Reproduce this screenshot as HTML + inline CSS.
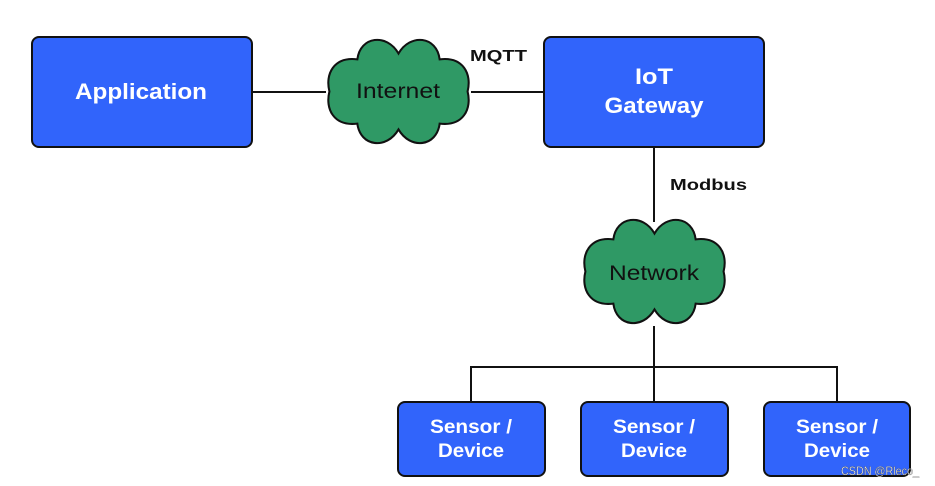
<!DOCTYPE html>
<html><head><meta charset="utf-8"><style>
html,body{margin:0;padding:0;background:#fff;}
svg{display:block;}
text{font-family:"Liberation Sans",Arial,sans-serif;}
</style></head><body>
<svg width="935" height="486" viewBox="0 0 935 486" xmlns="http://www.w3.org/2000/svg">
<defs>
<path id="cloud" d="M50 12 C42 -2 24 0 22 16 C6 14 0 26 3 38 C0 50 6 62 22 60 C24 76 42 78 50 64 C58 78 76 76 78 60 C94 62 100 50 97 38 C100 26 94 14 78 16 C76 0 58 -2 50 12 Z"/>
</defs>
<g stroke="#111" stroke-width="2" fill="none">
<line x1="252" y1="92" x2="326" y2="92"/>
<line x1="471" y1="92" x2="544" y2="92"/>
<line x1="654" y1="147" x2="654" y2="222"/>
<line x1="654" y1="326" x2="654" y2="402"/>
<polyline points="471,402 471,367 837,367 837,402"/>
</g>
<g fill="#3164fb" stroke="#111" stroke-width="2">
<rect x="32" y="37" width="220" height="110" rx="7"/>
<rect x="544" y="37" width="220" height="110" rx="7"/>
<rect x="398" y="402" width="147" height="74" rx="7"/>
<rect x="581" y="402" width="147" height="74" rx="7"/>
<rect x="764" y="402" width="146" height="74" rx="7"/>
</g>
<g fill="#2f9965" stroke="#111" stroke-width="1.4">
<use href="#cloud" transform="translate(325,36) scale(1.47,1.46)"/>
<use href="#cloud" transform="translate(581,216) scale(1.47,1.46)"/>
</g>
<g fill="#fff" font-weight="bold" font-size="22" text-anchor="middle">
<text x="141" y="99" textLength="132" lengthAdjust="spacingAndGlyphs">Application</text>
<text x="654" y="84" textLength="38" lengthAdjust="spacingAndGlyphs">IoT</text>
<text x="654" y="113" textLength="99" lengthAdjust="spacingAndGlyphs">Gateway</text>
</g>
<g fill="#fff" font-weight="bold" font-size="19" text-anchor="middle">
<text x="471" y="433" textLength="82" lengthAdjust="spacingAndGlyphs">Sensor /</text><text x="471" y="457" textLength="66" lengthAdjust="spacingAndGlyphs">Device</text>
<text x="654" y="433" textLength="82" lengthAdjust="spacingAndGlyphs">Sensor /</text><text x="654" y="457" textLength="66" lengthAdjust="spacingAndGlyphs">Device</text>
<text x="837" y="433" textLength="82" lengthAdjust="spacingAndGlyphs">Sensor /</text><text x="837" y="457" textLength="66" lengthAdjust="spacingAndGlyphs">Device</text>
</g>
<g fill="#111" font-size="21" text-anchor="middle">
<text x="398" y="98" textLength="84" lengthAdjust="spacingAndGlyphs">Internet</text>
<text x="654" y="280" textLength="90" lengthAdjust="spacingAndGlyphs">Network</text>
</g>
<g fill="#111" font-weight="bold" font-size="16">
<text x="470" y="61" textLength="57" lengthAdjust="spacingAndGlyphs">MQTT</text>
<text x="670" y="190" textLength="77" lengthAdjust="spacingAndGlyphs">Modbus</text>
</g>
<text x="841" y="475" fill="#fff" stroke="#333" stroke-width="0.3" font-size="12" textLength="78" lengthAdjust="spacingAndGlyphs">CSDN @Rleco_</text>
</svg>
</body></html>
